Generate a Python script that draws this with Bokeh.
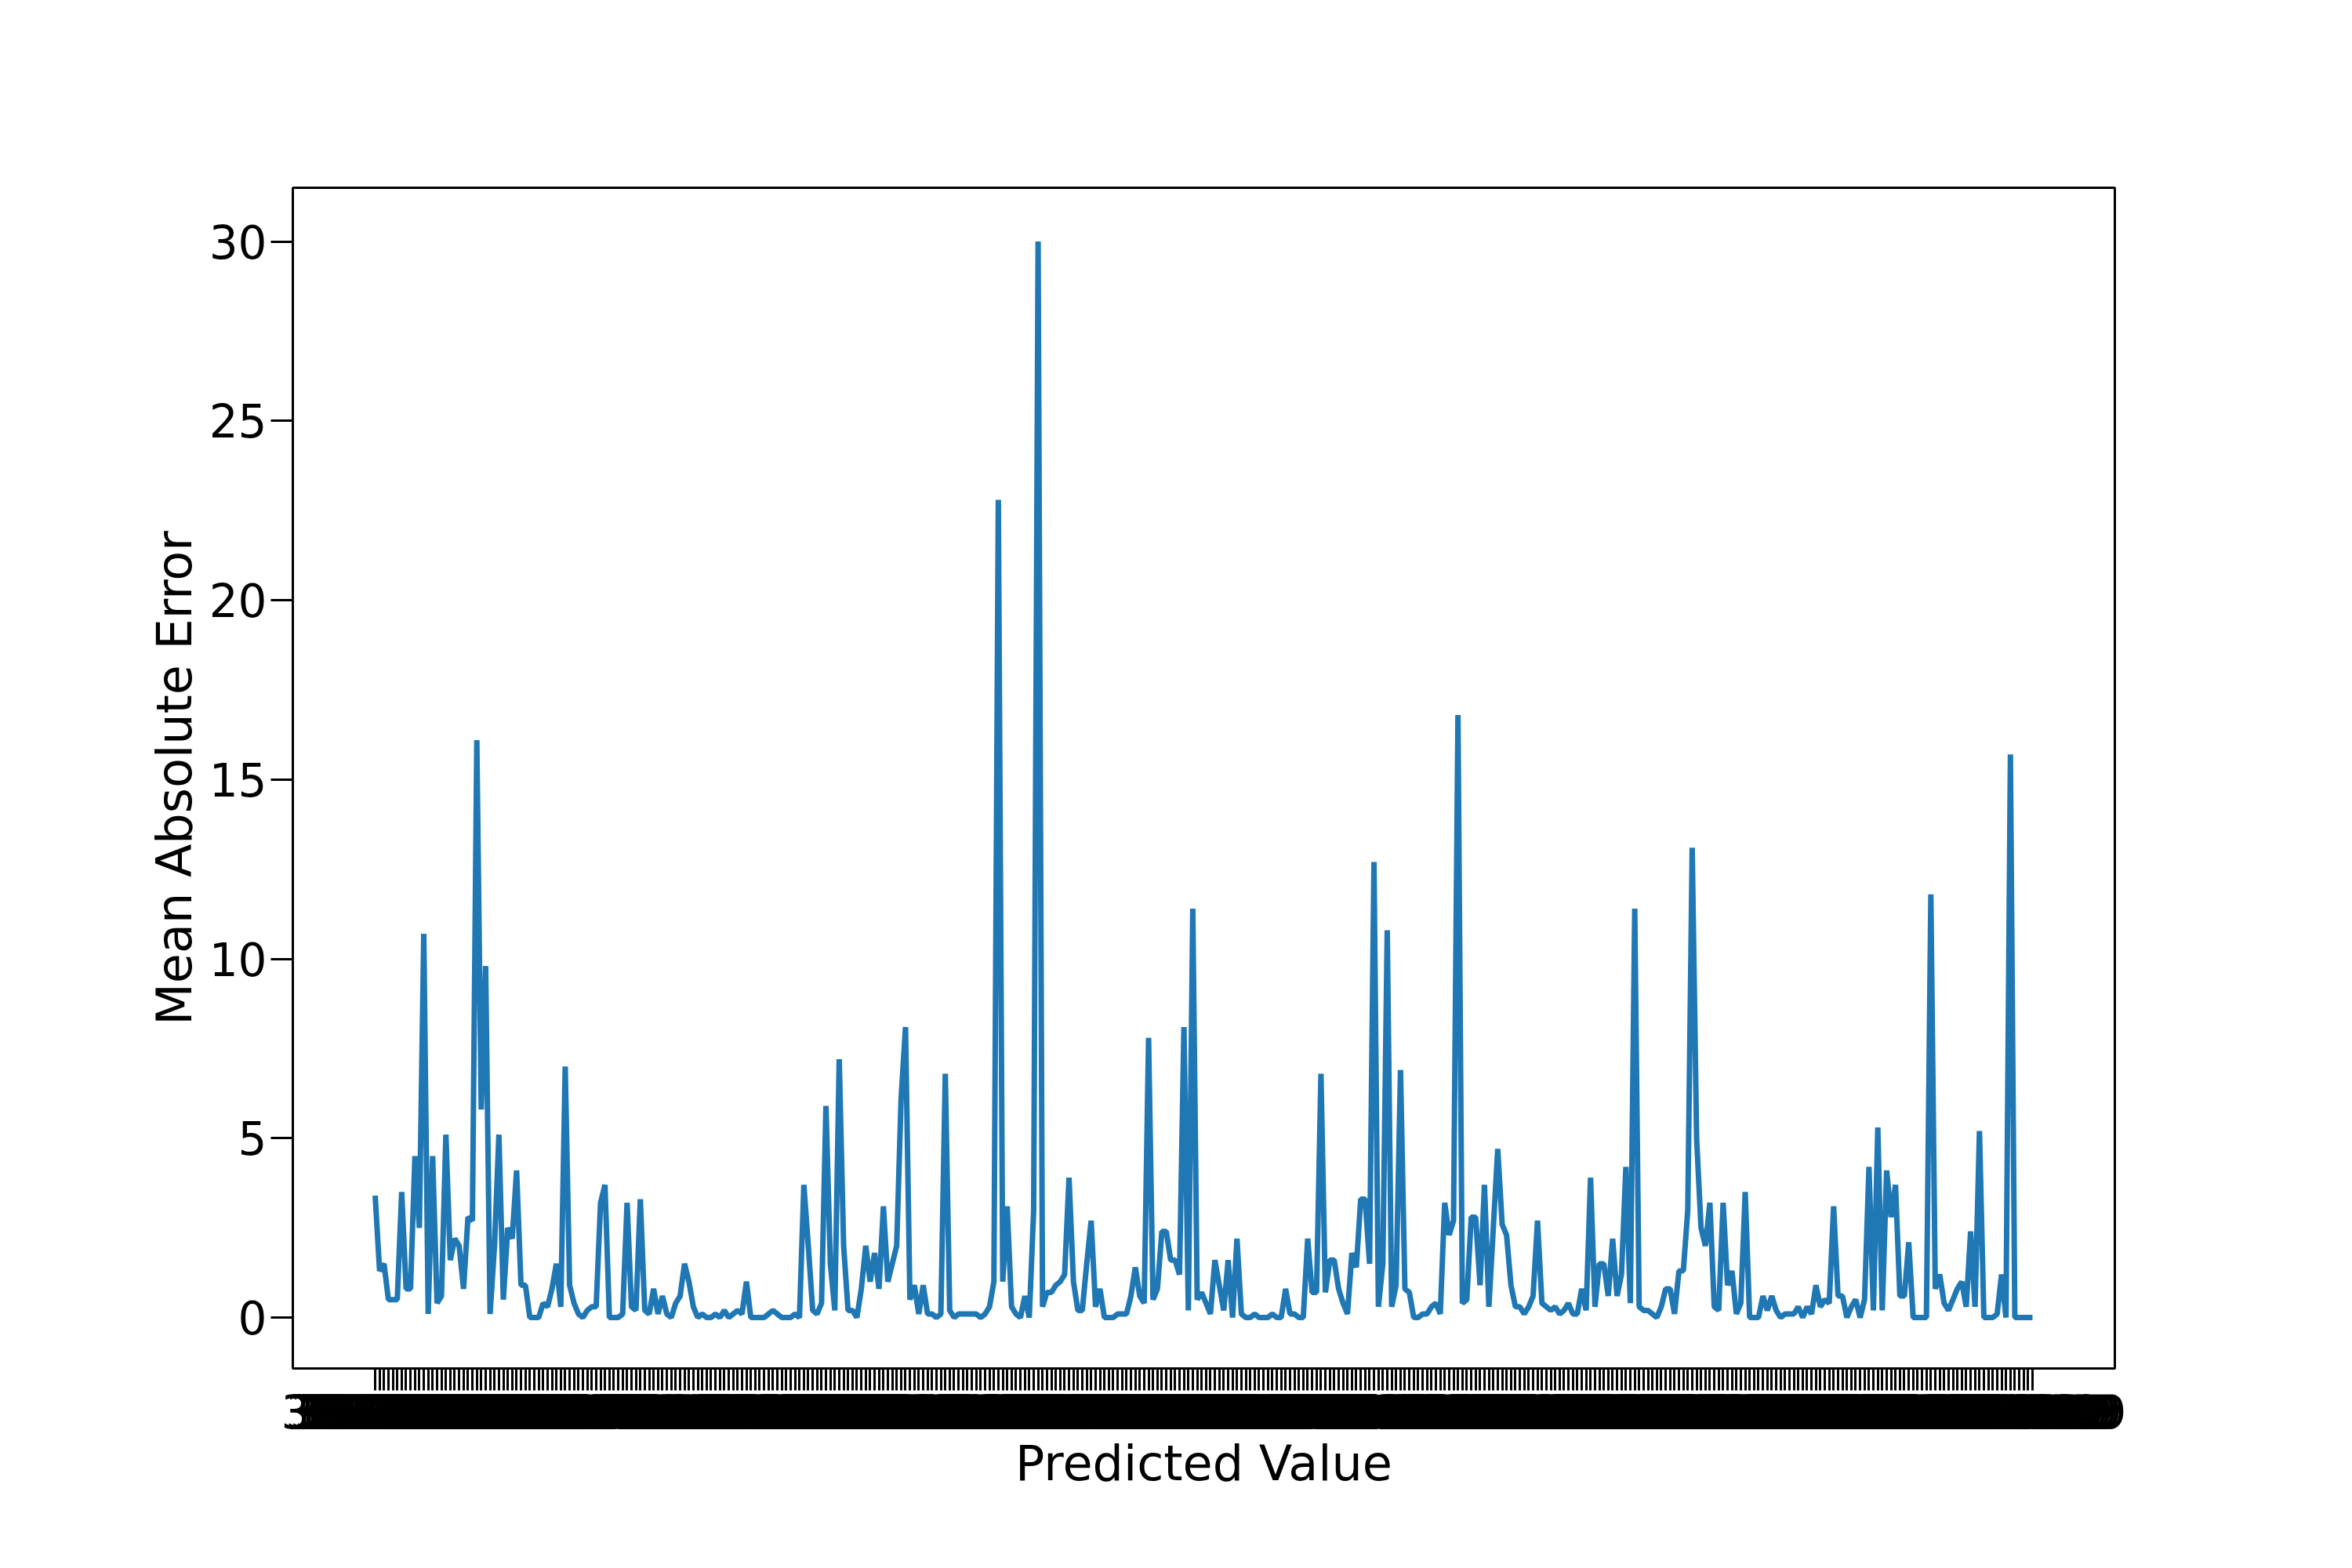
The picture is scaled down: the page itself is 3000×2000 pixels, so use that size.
from bokeh.plotting import figure
from bokeh.embed import file_html
from bokeh.resources import INLINE
from bokeh.models import Range1d, FixedTicker
import numpy as np

# mean absolute error per predicted value
mae = [3.4, 1.3, 1.5, 0.5, 0.5, 0.5, 3.5, 0.8, 0.8, 4.5, 2.5, 10.7, 0.1, 4.5, 0.4, 0.6, 5.1, 1.6, 2.2, 2.0,
       0.8, 2.8, 2.7, 16.1, 5.8, 9.8, 0.1, 2.0, 5.1, 0.5, 2.5, 2.2, 4.1, 0.9, 0.9, 0, 0, 0, 0.4, 0.3,
       0.8, 1.5, 0.3, 7.0, 0.9, 0.4, 0.1, 0, 0.2, 0.3, 0.3, 3.2, 3.7, 0, 0, 0, 0.1, 3.2, 0.3, 0.2,
       3.3, 0.2, 0.1, 0.8, 0.1, 0.6, 0.1, 0, 0.4, 0.6, 1.5, 1.0, 0.3, 0, 0.1, 0, 0, 0.1, 0, 0.2,
       0, 0.1, 0.2, 0.1, 1.0, 0, 0, 0, 0, 0.1, 0.2, 0.1, 0, 0, 0, 0.1, 0, 3.7, 2.0, 0.2,
       0.1, 0.4, 5.9, 1.5, 0.2, 7.2, 2.0, 0.2, 0.2, 0, 0.8, 2.0, 1.0, 1.8, 0.8, 3.1, 1.0, 1.5, 2.0, 6.1,
       8.1, 0.5, 0.9, 0.1, 0.9, 0.1, 0.1, 0, 0.1, 6.8, 0.2, 0, 0.1, 0.1, 0.1, 0.1, 0.1, 0, 0.1, 0.3,
       1.0, 22.8, 1.0, 3.1, 0.3, 0.1, 0, 0.6, 0, 3.0, 30.0, 0.3, 0.7, 0.7, 0.9, 1.0, 1.2, 3.9, 1.0, 0.2,
       0.2, 1.5, 2.7, 0.3, 0.8, 0, 0, 0, 0.1, 0.1, 0.1, 0.6, 1.4, 0.6, 0.4, 7.8, 0.5, 0.8, 2.4, 2.4,
       1.6, 1.6, 1.2, 8.1, 0.2, 11.4, 0.5, 0.7, 0.4, 0.1, 1.6, 0.9, 0.2, 1.6, 0, 2.2, 0.1, 0, 0, 0.1,
       0, 0, 0, 0.1, 0, 0, 0.8, 0.1, 0.1, 0, 0, 2.2, 0.7, 0.7, 6.8, 0.7, 1.6, 1.6, 0.8, 0.4,
       0.1, 1.8, 1.4, 3.3, 3.3, 1.5, 12.7, 0.3, 1.5, 10.8, 0.3, 0.9, 6.9, 0.8, 0.7, 0, 0, 0.1, 0.1, 0.3,
       0.4, 0.1, 3.2, 2.3, 2.7, 16.8, 0.4, 0.5, 2.8, 2.8, 0.9, 3.7, 0.3, 2.5, 4.7, 2.6, 2.3, 0.9, 0.3, 0.3,
       0.1, 0.3, 0.6, 2.7, 0.4, 0.3, 0.2, 0.3, 0.1, 0.2, 0.4, 0.1, 0.1, 0.8, 0.2, 3.9, 0.3, 1.5, 1.5, 0.6,
       2.2, 0.6, 1.2, 4.2, 0.4, 11.4, 0.3, 0.2, 0.2, 0.1, 0, 0.3, 0.8, 0.8, 0.1, 1.3, 1.3, 3.0, 13.1, 5.0,
       2.5, 2.0, 3.2, 0.3, 0.2, 3.2, 0.9, 1.3, 0.1, 0.4, 3.5, 0, 0, 0, 0.6, 0.2, 0.6, 0.2, 0, 0.1,
       0.1, 0.1, 0.3, 0, 0.3, 0.1, 0.9, 0.3, 0.5, 0.4, 3.1, 0.6, 0.6, 0, 0.3, 0.5, 0, 0.5, 4.2, 0.2,
       5.3, 0.2, 4.1, 2.8, 3.7, 0.6, 0.6, 2.1, 0, 0, 0, 0, 11.8, 0.8, 1.2, 0.4, 0.2, 0.5, 0.8, 1.0,
       0.3, 2.4, 0.3, 5.2, 0, 0, 0, 0.1, 1.2, 0, 15.7, 0, 0, 0, 0, 0]

n = len(mae)
# predicted values used as tick labels (unreadable in the picture, one per point)
predicted = ["%.4f" % v for v in np.linspace(30.1234, 99.8769, n)]

x = list(range(n))
pad = 55 / 1107 * (n - 1)

p = figure(width=2984, height=1984, output_backend="svg", toolbar_location=None,
           x_range=Range1d(-pad, n - 1 + pad), y_range=Range1d(-1.42, 31.5),
           min_border_left=373, min_border_right=287, min_border_top=239, min_border_bottom=239,
           x_axis_label="Predicted Value", y_axis_label="Mean Absolute Error")

p.line(x, mae, line_color="#1f77b4", line_width=7)

p.xaxis.ticker = FixedTicker(ticks=x)
p.xaxis.major_label_overrides = {i: predicted[i] for i in x}
p.yaxis.ticker = FixedTicker(ticks=[0, 5, 10, 15, 20, 25, 30])
p.xaxis.major_label_orientation = "horizontal"

for ax in (p.xaxis, p.yaxis):
    ax.major_label_text_font_size = "58px"
    ax.major_label_text_font = "DejaVu Sans"
    ax.major_label_text_color = "black"
    ax.axis_label_text_font_size = "62px"
    ax.axis_label_text_font = "DejaVu Sans"
    ax.axis_label_text_font_style = "normal"
    ax.axis_label_text_color = "black"
    ax.minor_tick_line_color = None
    ax.major_tick_out = 28
    ax.major_tick_in = 0
    ax.major_tick_line_width = 3
    ax.major_tick_line_color = "black"
    ax.axis_line_color = "black"
    ax.axis_line_width = 3

p.grid.visible = False
p.outline_line_color = "black"
p.outline_line_width = 3
p.outline_line_alpha = 1

open("out.html", "w").write(file_html(p, INLINE))
